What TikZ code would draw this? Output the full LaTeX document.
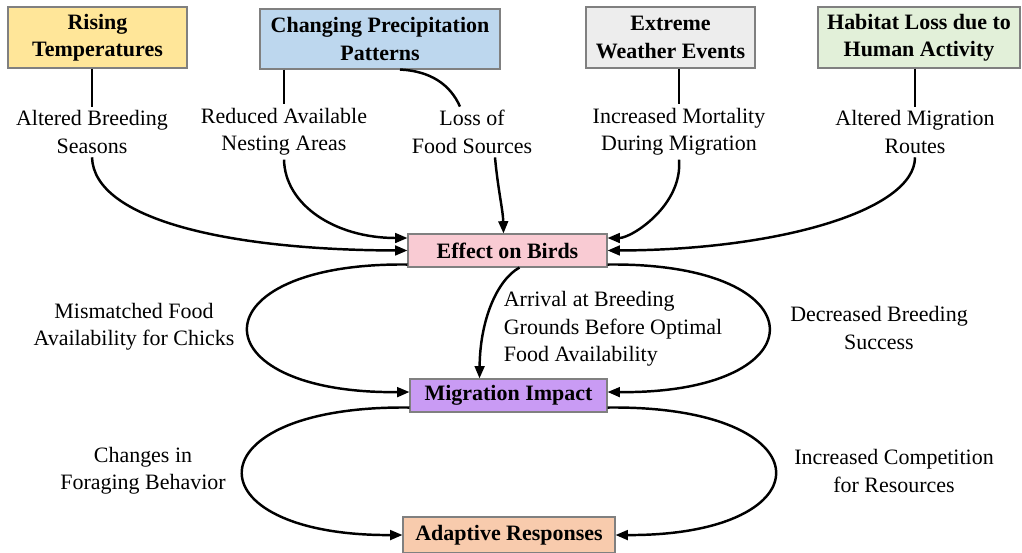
\documentclass[tikz,border=0pt]{standalone}
\usepackage{fontspec}
\setmainfont{Liberation Serif}
\usetikzlibrary{arrows.meta}

\definecolor{warmfill}{HTML}{FFE699}
\definecolor{rainfill}{HTML}{BDD7EE}
\definecolor{stormfill}{HTML}{EDEDED}
\definecolor{habitatfill}{HTML}{E2F0D9}
\definecolor{birdfill}{HTML}{F9CBD3}
\definecolor{migrfill}{HTML}{C99BF4}
\definecolor{adaptfill}{HTML}{F8CBAD}

\begin{document}
\begin{tikzpicture}[
    x=0.02cm, y=-0.02cm,
    cause/.style={rectangle, draw=gray, line width=0.6pt, align=center, font=\fontsize{12.5}{15.6}\selectfont\bfseries, minimum height=1.22cm, inner sep=1pt},
    impact/.style={rectangle, draw=gray, line width=0.6pt, align=center, font=\fontsize{12.5}{15.6}\selectfont\bfseries, minimum height=0.66cm, inner sep=1pt},
    factor/.style={align=center, font=\fontsize{12.5}{15.6}\selectfont, inner sep=2pt},
    link/.style={line width=1.4pt},
    flow/.style={-{Triangle[length=7pt,width=5.5pt]}, line width=1.4pt}
]
\useasboundingbox (0,0) rectangle (1022,552);

% Causes
\node[cause, fill=warmfill, minimum width=3.58cm] (temp) at (97.5,37.5) {Rising\\Temperatures};
\node[cause, fill=rainfill, minimum width=4.8cm, minimum height=1.2cm] (precip) at (380,39) {Changing Precipitation\\Patterns};
\node[cause, fill=stormfill, minimum width=3.38cm] (storm) at (670.5,37.5) {Extreme\\Weather Events};
\node[cause, fill=habitatfill, minimum width=4.04cm] (habitat) at (919,37.5) {Habitat Loss due to\\Human Activity};

% Impacts
\node[impact, fill=birdfill, minimum width=3.98cm] (effect) at (507.5,250.5) {Effect on Birds};
\node[impact, fill=migrfill, minimum width=3.94cm] (migr) at (508.5,395.5) {Migration Impact};
\node[impact, fill=adaptfill, minimum width=4.24cm, minimum height=0.72cm] (adapt) at (509,535) {Adaptive Responses};

% Factors - first row
\node[factor] (breed) at (92,132) {Altered Breeding\\Seasons};
\node[factor] (nest) at (284,132) {Reduced Available\\Nesting Areas};
\node[factor] (food) at (472,132) {Loss of\\Food Sources};
\node[factor] (mort) at (679,132) {Increased Mortality\\During Migration};
\node[factor] (route) at (915,132) {Altered Migration\\Routes};

% Factors - middle and bottom
\node[factor] (mismatch) at (134,327) {Mismatched Food\\Availability for Chicks};
\node[factor, anchor=west, align=left] (arrival) at (500,329) {Arrival at Breeding\\Grounds Before Optimal\\Food Availability};
\node[factor] (success) at (879,328) {Decreased Breeding\\Success};
\node[factor] (forage) at (143,471) {Changes in\\Foraging Behavior};
\node[factor] (compete) at (894,471) {Increased Competition\\for Resources};

% Causes to factors
\draw[link] (breed.north |- temp.south) -- (breed.north);
\draw[link] (nest.north |- precip.south) -- (nest.north);
\draw[link] ([xshift=0.4cm]precip.south) .. controls (430,71) and (450,84) .. ([xshift=-0.24cm]food.north);
\draw[link] (mort.north |- storm.south) -- (mort.north);
\draw[link] (route.north |- habitat.south) -- (route.north);

% Factors to effect on birds
\draw[flow] (breed.south) .. controls (94,220) and (230,250) .. (effect.west);
\draw[flow] (nest.south) .. controls (285,205) and (335,238) .. ([yshift=0.25cm]effect.west);
\draw[flow] ([xshift=0.46cm]food.south) .. controls (498,190) and (503,210) .. ([xshift=-0.08cm]effect.north);
\draw[flow] (mort.south) .. controls (683,205) and (632,238) .. ([yshift=0.25cm]effect.east);
\draw[flow] (route.south) .. controls (915,210) and (780,250) .. (effect.east);

% Effect on birds to migration impact
\draw[flow] ([yshift=0.06cm]effect.south west) .. controls (195,262) and (195,394) .. ([yshift=0.07cm]migr.west);
\draw[flow] ([xshift=0.24cm]effect.south) .. controls (497,280) and (480,320) .. ([xshift=-0.58cm]migr.north);
\draw[flow] ([yshift=0.06cm]effect.south east) .. controls (822,262) and (822,394) .. ([yshift=0.07cm]migr.east);

% Migration impact to adaptive responses
\draw[flow] ([yshift=0.1cm]migr.south west) .. controls (189,405) and (189,536) .. (adapt.west);
\draw[flow] ([yshift=0.1cm]migr.south east) .. controls (829,405) and (829,536) .. (adapt.east);

\end{tikzpicture}
\end{document}
